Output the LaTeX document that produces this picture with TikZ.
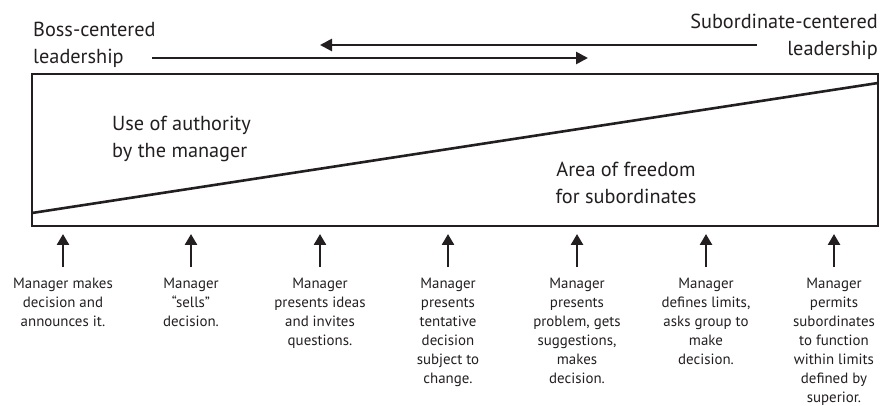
\documentclass[tikz,border=0pt]{standalone}
\usepackage{fontspec}
\setmainfont{PT Sans}
\usetikzlibrary{arrows.meta}
\definecolor{ink}{HTML}{231F20}
\tikzset{
    thick line/.style={line width=2.6pt, draw=ink},
    up arrow/.style={thick line, -{Triangle[length=11pt,width=12pt]}},
    side arrow/.style={thick line, -{Triangle[length=12pt,width=12pt]}},
    big label/.style={font=\fontsize{20.3}{27}\selectfont, text=ink, inner sep=0pt},
    small label/.style={font=\fontsize{14.9}{19}\selectfont, align=center, text=ink, inner xsep=0pt, inner ysep=11pt, anchor=north},
}

\begin{document}
\begin{tikzpicture}[x=1pt,y=-1pt]
    \useasboundingbox (0,0) rectangle (881,406);
    \node[big label, align=left, anchor=north west] (boss) at (33,22) {Boss-centered\\leadership};
    \node[big label, align=right, anchor=north east] (sub) at (878,14) {Subordinate-centered\\leadership};
    \coordinate (bossstart) at (152,58);
    \coordinate (bossend) at (588,58);
    \coordinate (substart) at (757,45);
    \coordinate (subend) at (320,45);
    \draw[side arrow] (substart) -- (subend);
    \draw[side arrow] (bossstart) -- (bossend);

    \coordinate (boxtl) at (32,74);
    \coordinate (boxbr) at (878,226);
    \coordinate (linestart) at (32,213);
    \coordinate (lineend) at (878,83);
    \draw[thick line] (boxtl) rectangle (boxbr);
    \draw[thick line] (linestart) -- (lineend);
    \node[big label, align=left, anchor=north west] (authority) at (112,116) {Use of authority\\by the manager};
    \node[big label, align=center, anchor=north] (freedom) at (626,162) {Area of freedom\\for subordinates};

    \foreach \x/\t [count=\i] in {
        63/{Manager makes\\decision and\\announces it.},
        191/{Manager\\“sells”\\decision.},
        320/{Manager\\presents ideas\\and invites\\questions.},
        448/{Manager\\presents\\tentative\\decision\\subject to\\change.},
        577/{Manager\\presents\\problem, gets\\suggestions,\\makes\\decision.},
        706/{Manager\\defines limits,\\asks group to\\make\\decision.},
        834/{Manager\\permits\\subordinates\\to function\\within limits\\defined by\\superior.}}
    {
        \node[small label] (d\i) at (\x,267) {\t};
        \coordinate (h\i) at (\x,234);
        \draw[up arrow] (d\i.north) -- (h\i);
    }
\end{tikzpicture}
\end{document}
